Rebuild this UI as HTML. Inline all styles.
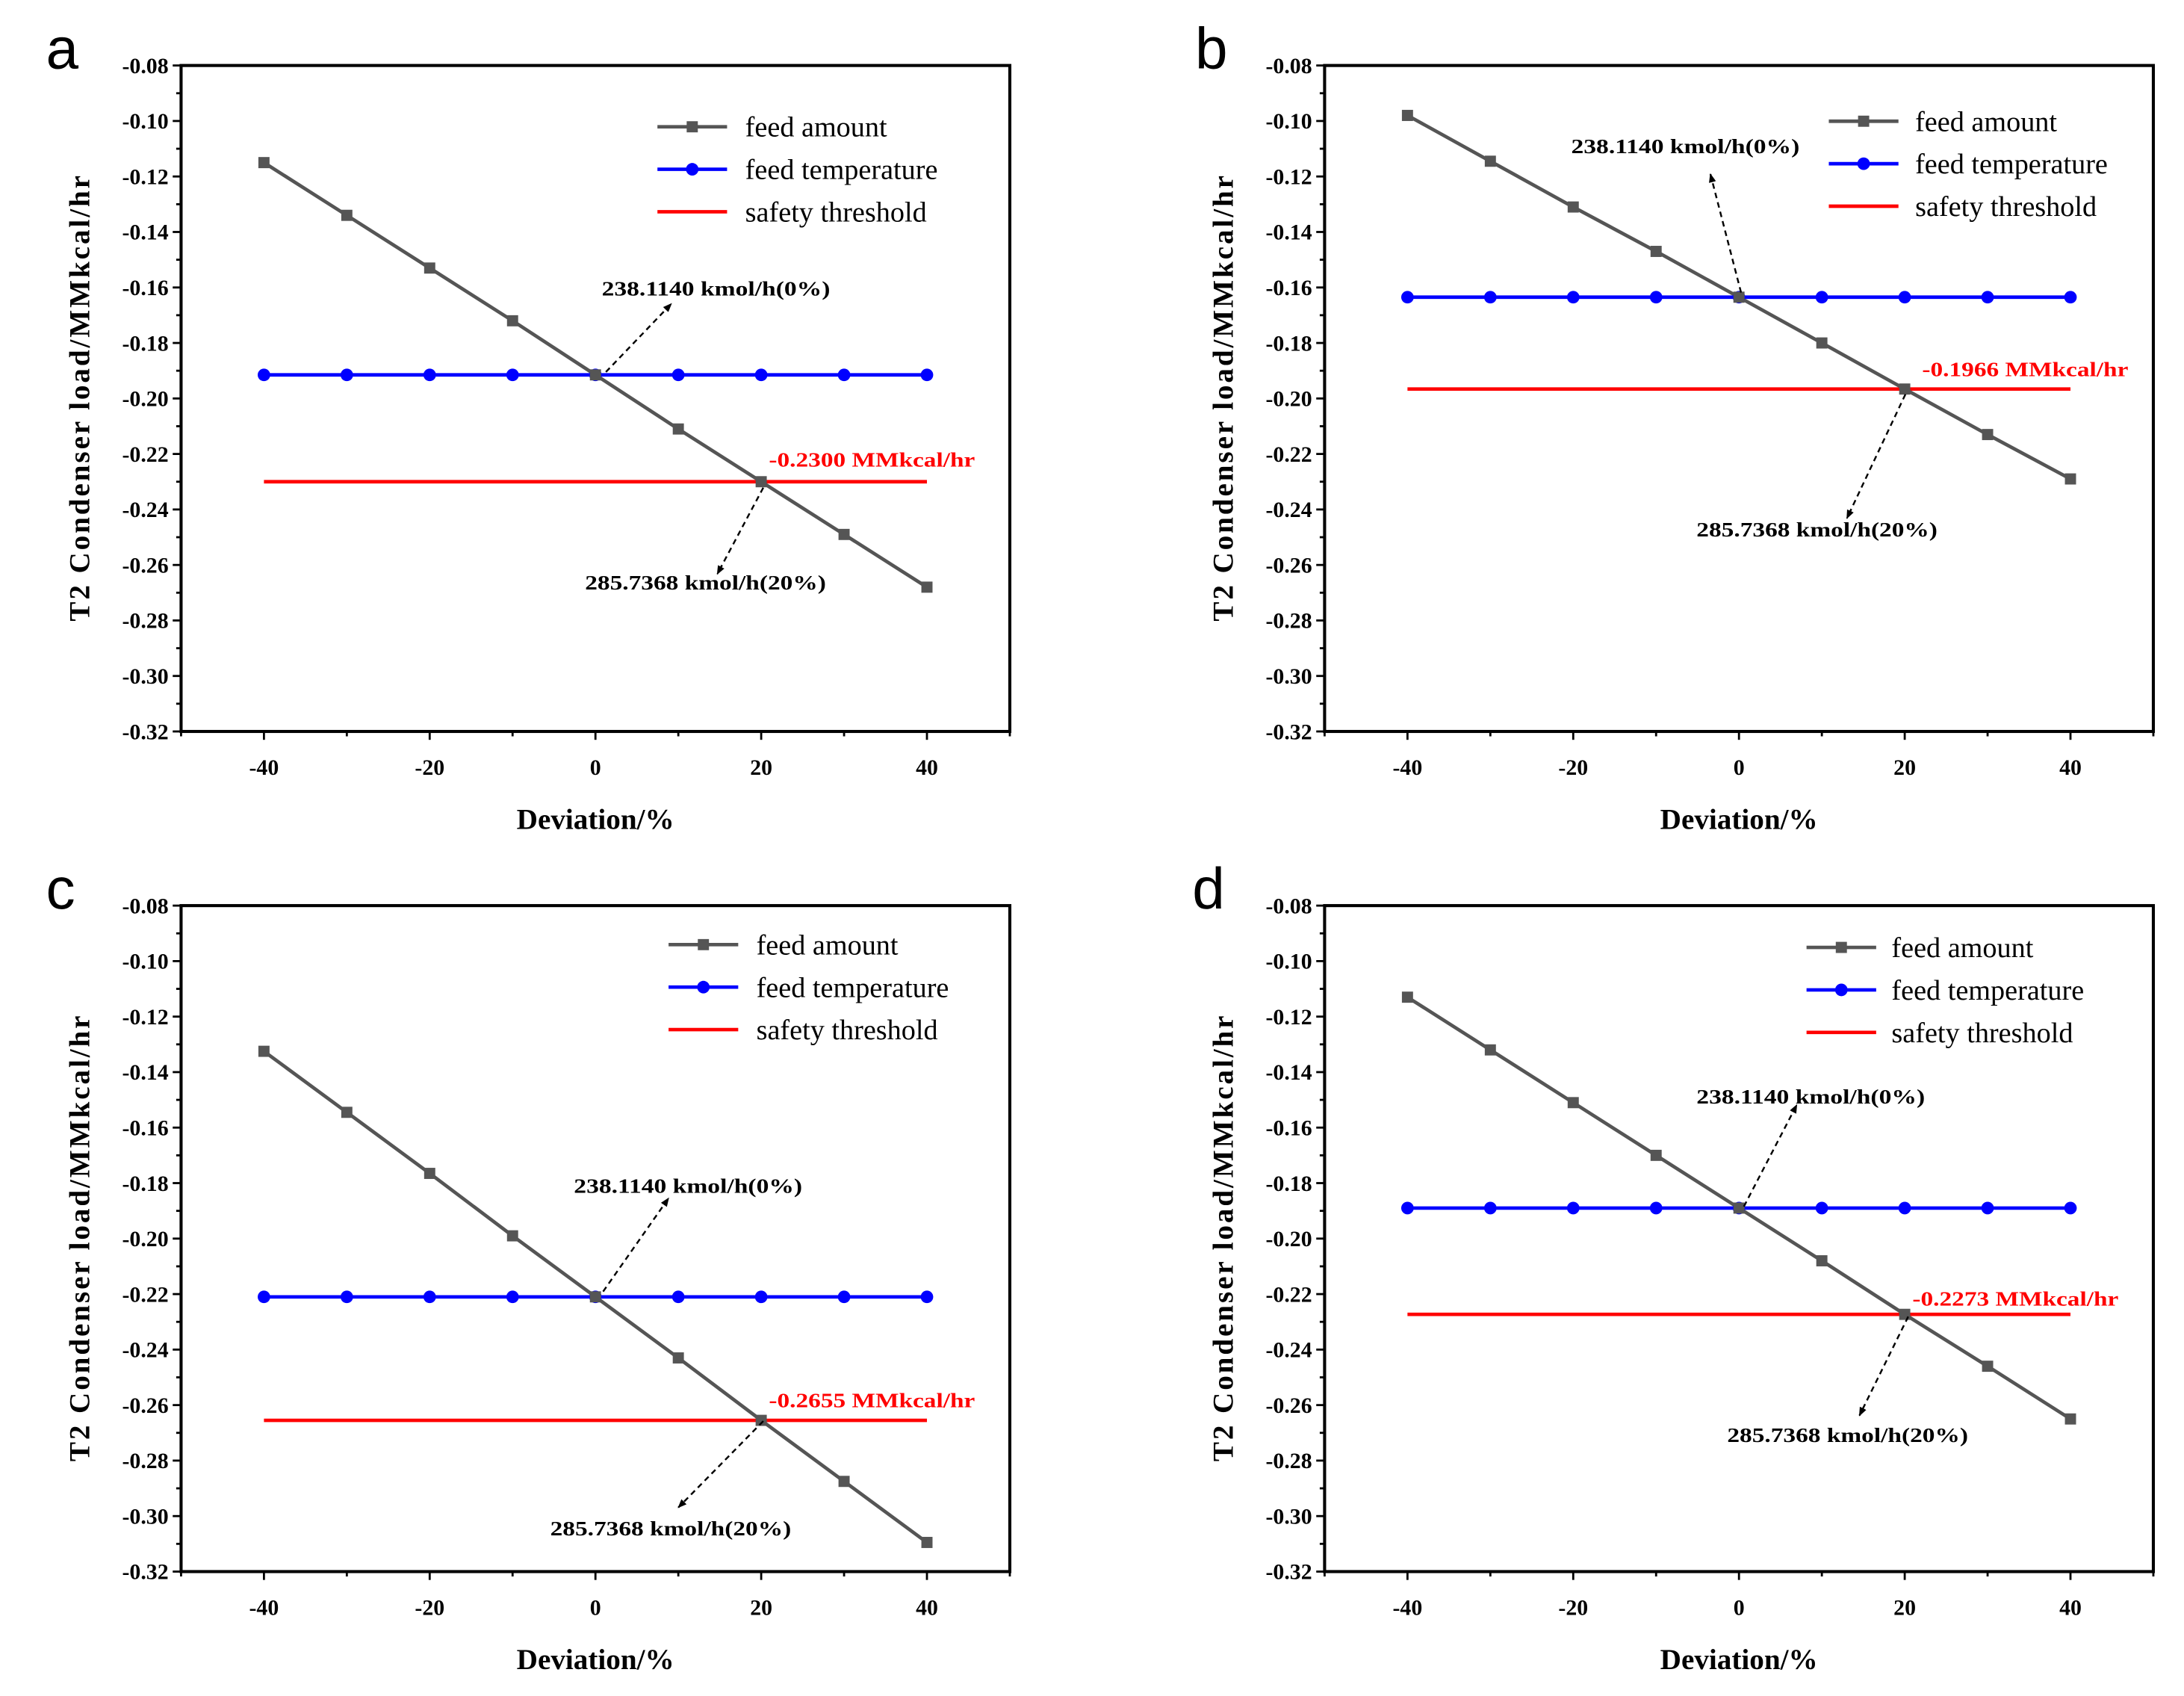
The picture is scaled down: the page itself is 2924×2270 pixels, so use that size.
<!DOCTYPE html>
<html><head><meta charset="utf-8"><style>
html,body{margin:0;padding:0;background:#fff}
svg{display:block}
text{font-family:"Liberation Serif",serif}
</style></head><body>
<svg id="fig" width="2924" height="2270" viewBox="0 0 1568 1217.3" xmlns="http://www.w3.org/2000/svg">
<defs><marker id="ah" viewBox="0 0 10 10" refX="9" refY="5" markerWidth="5" markerHeight="5" orient="auto"><path d="M0,1 L10,5 L0,9 z" fill="#000"/></marker></defs>
</svg>
<script>
const xValues=[-40,-30,-20,-10,0,10,20,30,40];
const xTicks=[-40,-20,0,20,40];
const yTicks=[-0.08,-0.10,-0.12,-0.14,-0.16,-0.18,-0.20,-0.22,-0.24,-0.26,-0.28,-0.30,-0.32];
const feedA=[-0.115,-0.134,-0.153,-0.172,-0.1915,-0.211,-0.230,-0.249,-0.268];
const tempA=[-0.1915,-0.1915,-0.1915,-0.1915,-0.1915,-0.1915,-0.1915,-0.1915,-0.1915];
const threshA=-0.2300;
const feedB=[-0.098,-0.1145,-0.131,-0.147,-0.1635,-0.180,-0.1966,-0.213,-0.229];
const tempB=[-0.1635,-0.1635,-0.1635,-0.1635,-0.1635,-0.1635,-0.1635,-0.1635,-0.1635];
const threshB=-0.1966;
const feedC=[-0.1325,-0.1545,-0.1765,-0.199,-0.221,-0.243,-0.2655,-0.2875,-0.3095];
const tempC=[-0.221,-0.221,-0.221,-0.221,-0.221,-0.221,-0.221,-0.221,-0.221];
const threshC=-0.2655;
const feedD=[-0.113,-0.132,-0.151,-0.170,-0.189,-0.208,-0.2273,-0.246,-0.265];
const tempD=[-0.189,-0.189,-0.189,-0.189,-0.189,-0.189,-0.189,-0.189,-0.189];
const threshD=-0.2273;
const threshLabels=["-0.2300 MMkcal/hr","-0.1966 MMkcal/hr","-0.2655 MMkcal/hr","-0.2273 MMkcal/hr"];

const svg=document.getElementById('fig');
const NS='http://www.w3.org/2000/svg';
function mk(tag,attrs,parent){const e=document.createElementNS(NS,tag);for(const k in attrs)e.setAttribute(k,attrs[k]);(parent||svg).appendChild(e);return e;}

const panels=[
 {id:'a',L:130,T:47,feed:feedA,temp:tempA,th:threshA,leg:[472,535,91],letter:[33,35],
  top:{t:[432,207],a:[435,267,482,218]},bot:{t:[420,418],a:[548,350,515,412]},red:[552,330]},
 {id:'b',L:951,T:47,feed:feedB,temp:tempB,th:threshB,leg:[1313,1375,87],letter:[858,35],
  top:{t:[1128,105],a:[1250,210,1228,125]},bot:{t:[1218,380],a:[1368,283,1326,372]},red:[1380,265]},
 {id:'c',L:130,T:650,feed:feedC,temp:tempC,th:threshC,leg:[480,543,678],letter:[33,638],
  top:{t:[412,851],a:[433,927,480,860]},bot:{t:[395,1097],a:[548,1020,487,1082]},red:[552,1005]},
 {id:'d',L:951,T:650,feed:feedD,temp:tempD,th:threshD,leg:[1297,1358,680],letter:[856,638],
  top:{t:[1218,787],a:[1252,866,1290,793]},bot:{t:[1240,1030],a:[1370,945,1335,1016]},red:[1373,932]}
];
const W=595,H=478;
panels.forEach((p,pi)=>{
 const g=mk('g',{});
 
 
 const xs=v=>p.L+(v+50)/100*W;
 const ys=v=>p.T+(-0.08-v)/0.24*H;
 const lt=mk('text',{x:p.letter[0],y:p.letter[1]+14,'font-size':42,style:'font-family:"Liberation Sans",sans-serif'},g);lt.textContent=p.id;
 
 
 const fr=mk('rect',{x:p.L,y:p.T,width:W,height:H,fill:'none',stroke:'#000','stroke-width':2.2},g);
 
 
 for(let i=0;i<=24;i++){const v=-0.08-i*0.01;const y=ys(v);const major=i%2==0;
  mk('line',{x1:p.L,x2:p.L-(major?6:3.5),y1:y,y2:y,stroke:'#000','stroke-width':1.5},g);}
 yTicks.forEach(v=>{const t=mk('text',{x:p.L-9,y:ys(v)+5.5,'text-anchor':'end','font-size':16,'font-weight':'bold'},g);t.textContent=v.toFixed(2);
  
  });
 for(let v=-50;v<=50;v+=10){const x=xs(v);const major=(v%20===0&&Math.abs(v)<=40);
  mk('line',{x1:x,x2:x,y1:p.T+H,y2:p.T+H+(major?6:3.5),stroke:'#000','stroke-width':1.5},g);}
 xTicks.forEach(v=>{const t=mk('text',{x:xs(v),y:p.T+H+31,'text-anchor':'middle','font-size':16,'font-weight':'bold'},g);t.textContent=v;
  
  });
 const xt=mk('text',{x:p.L+W/2,y:p.T+H+70,'text-anchor':'middle','font-size':21,'font-weight':'bold'},g);xt.textContent='Deviation/%';
 
 
 const yt=mk('text',{x:0,y:0,'text-anchor':'middle','font-size':21,'font-weight':'bold',textLength:320,lengthAdjust:'spacing',transform:`translate(${p.L-66},${p.T+H/2}) rotate(-90)`},g);yt.textContent='T2 Condenser load/MMkcal/hr';
 
 
 const th=mk('line',{x1:xs(-40),x2:xs(40),y1:ys(p.th),y2:ys(p.th),stroke:'#ff0000','stroke-width':2.5},g);
 
 
 const tp=mk('polyline',{points:xValues.map((x,i)=>xs(x)+','+ys(p.temp[i])).join(' '),fill:'none',stroke:'#0000ff','stroke-width':2.5},g);
 
 
 const fp=mk('polyline',{points:xValues.map((x,i)=>xs(x)+','+ys(p.feed[i])).join(' '),fill:'none',stroke:'#555','stroke-width':2.5},g);
 
 
 xValues.forEach((x,i)=>{
  const c=mk('circle',{cx:xs(x),cy:ys(p.temp[i]),r:4.5,fill:'#0000ff'},g);
  
  
  const s=mk('rect',{x:xs(x)-4,y:ys(p.feed[i])-4,width:8,height:8,fill:'#555'},g);
  
  
 });
 const [lx,tx,ly]=p.leg;const names=['feed amount','feed temperature','safety threshold'];const cols=['#555','#0000ff','#ff0000'];
 names.forEach((n,k)=>{const y=ly+k*30.5;
  mk('line',{x1:lx,x2:lx+50,y1:y,y2:y,stroke:cols[k],'stroke-width':2.5},g);
  if(k==0)mk('rect',{x:lx+21,y:y-4,width:8,height:8,fill:'#555'},g);
  if(k==1)mk('circle',{cx:lx+25,cy:y,r:4.5,fill:'#0000ff'},g);
  const t=mk('text',{x:tx,y:y+7,'font-size':20.5},g);t.textContent=n;
  
  });
 const a1=mk('line',{x1:p.top.a[0],y1:p.top.a[1],x2:p.top.a[2],y2:p.top.a[3],stroke:'#000','stroke-width':1.3,'stroke-dasharray':'4,3','marker-end':'url(#ah)'},g);
 
 
 const a2=mk('line',{x1:p.bot.a[0],y1:p.bot.a[1],x2:p.bot.a[2],y2:p.bot.a[3],stroke:'#000','stroke-width':1.3,'stroke-dasharray':'4,3','marker-end':'url(#ah)'},g);
 
 
 const t1=mk('text',{x:p.top.t[0],y:p.top.t[1]+5,'font-size':15,'font-weight':'bold',textLength:164,lengthAdjust:'spacingAndGlyphs'},g);t1.textContent='238.1140 kmol/h(0%)';
 
 
 const t2=mk('text',{x:p.bot.t[0],y:p.bot.t[1]+5,'font-size':15,'font-weight':'bold',textLength:173,lengthAdjust:'spacingAndGlyphs'},g);t2.textContent='285.7368 kmol/h(20%)';
 
 
 const t3=mk('text',{x:p.red[0],y:p.red[1]+5,'font-size':15,'font-weight':'bold',fill:'#ff0000',textLength:148,lengthAdjust:'spacingAndGlyphs'},g);t3.textContent=threshLabels[pi];
 
 
});
</script>
</body></html>
